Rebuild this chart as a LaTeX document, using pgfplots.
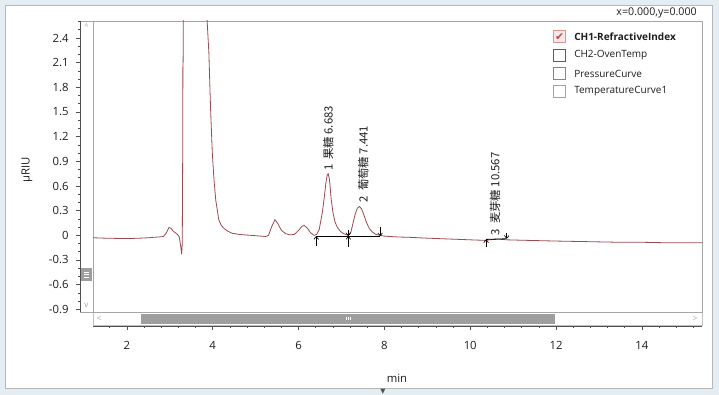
\documentclass[border=0pt]{standalone}
\usepackage{pgfplots}
\pgfplotsset{compat=1.18}
\usepackage{fontspec}
\setmainfont{Open Sans}
\newfontfamily\cjk{Noto Sans CJK SC}
\newfontfamily\dejavu{DejaVu Sans}
\usetikzlibrary{arrows.meta}
\definecolor{bgblue}{HTML}{E4EDF2}
\definecolor{framegray}{HTML}{A6A6A6}
\definecolor{axisgray}{HTML}{505050}
\definecolor{curve}{RGB}{155,75,80}
\definecolor{thumb}{HTML}{9E9E9E}
\definecolor{txt}{HTML}{1E1E1E}
\begin{document}
\begin{tikzpicture}
\begin{scope}[x=0.75pt,y=-0.75pt]
  \fill[bgblue] (0,0) rectangle (719,395);
  \fill[white] (5,5) rectangle (712,388);
  \draw[framegray!80,line width=0.5pt] (5,5) rectangle (712,388);
  % vertical scrollbar
  \draw[framegray,line width=0.5pt] (80,21) rectangle (93,312);
  \fill[thumb] (81,268) rectangle (92,281);
  \foreach \yy in {272,274.5,277} {\draw[white,line width=0.5pt] (84,\yy) -- (89,\yy);}
  \node[text=gray!70,font=\fontsize{6}{6}\selectfont,inner sep=0pt] at (86.5,27) {\textasciicircum};
  \node[text=gray!70,font=\fontsize{6}{6}\selectfont,inner sep=0pt] at (86.5,305) {v};
  % horizontal scrollbar
  \draw[framegray!70,line width=0.5pt] (93,312) rectangle (702,325);
  \fill[thumb] (141,314) rectangle (555,324);
  \foreach \xx in {346,348,350} {\draw[white,line width=0.5pt] (\xx,317) -- (\xx,320.5);}
  \node[text=gray!70,font=\fontsize{6.5}{6.5}\selectfont,inner sep=0pt] at (99,318.5) {<};
  \node[text=gray!70,font=\fontsize{6.5}{6.5}\selectfont,inner sep=0pt] at (695,318.5) {>};
  \node[text=axisgray,font=\fontsize{5}{5}\selectfont,inner sep=0pt] at (383,392) {\dejavu ▼};
\end{scope}

% y scale axis
\begin{axis}[
  at={(60pt,-234pt)}, anchor=south west,
  scale only axis, width=456.75pt, height=218.25pt,
  xmin=0, xmax=1, ymin=-0.933, ymax=2.607,
  axis y line=left, axis x line=none,
  y axis line style={-, draw=axisgray, line width=0.5pt},
  xtick=\empty,
  ytick={-0.9,-0.6,-0.3,0,0.3,0.6,0.9,1.2,1.5,1.8,2.1,2.4},
  minor ytick={-0.8,-0.7,-0.5,-0.4,-0.2,-0.1,0.1,0.2,0.4,0.5,0.7,0.8,1.0,1.1,1.3,1.4,1.6,1.7,1.9,2.0,2.2,2.3,2.5,2.6},
  tick align=outside,
  major tick length=3pt, minor tick length=1.6pt,
  tick style={draw=axisgray, line width=0.5pt},
  /pgf/number format/assume math mode=true,
  yticklabel={\pgfmathprintnumber[fixed,precision=1]{\tick}},
  yticklabel style={font=\fontsize{8.5}{10}\selectfont, text=txt, xshift=-2pt},
]
\end{axis}

% x scale axis
\begin{axis}[
  at={(69.75pt,-244.5pt)}, anchor=south west,
  scale only axis, width=456.75pt, height=10pt,
  xmin=1.21, xmax=15.40, ymin=0, ymax=1,
  axis x line=bottom, axis y line=none,
  x axis line style={-, draw=axisgray, line width=0.5pt},
  ytick=\empty,
  xtick={2,4,6,8,10,12,14},
  minor xtick={1.2,1.6,2.4,2.8,3.2,3.6,4.4,4.8,5.2,5.6,6.4,6.8,7.2,7.6,8.4,8.8,9.2,9.6,10.4,10.8,11.2,11.6,12.4,12.8,13.2,13.6,14.4,14.8,15.2},
  tick align=outside,
  major tick length=3pt, minor tick length=1.6pt,
  tick style={draw=axisgray, line width=0.5pt},
  /pgf/number format/assume math mode=true,
  xticklabel style={font=\fontsize{8.5}{10}\selectfont, text=txt, yshift=-5pt},
]
\end{axis}

% main plot
\begin{axis}[
  at={(69.75pt,-234pt)}, anchor=south west,
  scale only axis, width=456.75pt, height=218.25pt,
  xmin=1.21, xmax=15.40, ymin=-0.933, ymax=2.607,
  xtick=\empty, ytick=\empty,
  axis line style={draw=framegray, line width=0.5pt},
]
\addplot[curve, line width=0.6pt] coordinates {
(1.21,-0.03) (1.5,-0.035) (2.0,-0.04) (2.3,-0.035) (2.5,-0.03) (2.6,-0.025)
(2.75,-0.02) (2.85,-0.015) (2.92,0.03) (2.98,0.095) (3.03,0.085) (3.08,0.05)
(3.13,0.03) (3.18,0.01) (3.22,-0.02) (3.25,-0.12) (3.275,-0.23) (3.29,-0.1)
(3.30,1.0) (3.305,2.11) (3.31,2.11) (3.315,2.7) (3.33,3.5) (3.5,6.0) (3.7,5.0)
(3.85,2.9) (3.87,2.6) (3.91,2.22) (3.95,1.53) (3.99,1.0) (4.03,0.67) (4.07,0.43)
(4.14,0.19) (4.2,0.12) (4.26,0.085) (4.35,0.05) (4.45,0.025) (4.6,0.012)
(4.77,0.004) (5.0,-0.005) (5.23,-0.015) (5.3,0.0) (5.37,0.1) (5.45,0.19)
(5.52,0.14) (5.6,0.06) (5.7,0.02) (5.8,0.005) (5.9,0.01) (6.0,0.06) (6.08,0.11)
(6.13,0.12) (6.2,0.09) (6.28,0.03) (6.36,0.0) (6.42,0.01) (6.48,0.07)
(6.52,0.18) (6.56,0.3) (6.6,0.47) (6.64,0.65) (6.67,0.74) (6.69,0.75)
(6.72,0.68) (6.76,0.44) (6.8,0.28) (6.85,0.16) (6.9,0.10) (6.97,0.05)
(7.05,0.02) (7.16,0.0) (7.22,0.04) (7.27,0.15) (7.32,0.26) (7.37,0.33)
(7.42,0.35) (7.47,0.32) (7.52,0.25) (7.58,0.16) (7.65,0.08) (7.72,0.04)
(7.8,0.01) (7.9,0.0) (8.0,-0.01) (8.3,-0.02) (8.6,-0.025) (9.0,-0.035)
(9.5,-0.045) (10.0,-0.055) (10.36,-0.062) (10.45,-0.055) (10.55,-0.05)
(10.65,-0.048) (10.75,-0.05) (10.85,-0.055) (11.2,-0.06) (11.6,-0.065)
(12,-0.07) (12.5,-0.075) (13,-0.08) (13.5,-0.085) (14,-0.085) (14.5,-0.09)
(15,-0.09) (15.4,-0.09)
};
% integration baselines
\addplot[black, line width=0.6pt] coordinates {(6.41,-0.01) (7.90,-0.01)};
\addplot[black, line width=0.6pt] coordinates {(10.37,-0.05) (10.85,-0.042)};
% peak markers
\addplot[black, line width=0.5pt, -{Straight Barb[length=2pt,width=3.5pt]}] coordinates {(6.41,-0.13) (6.41,-0.01)};
\addplot[black, line width=0.5pt, -{Straight Barb[length=2pt,width=3.5pt]}] coordinates {(7.16,-0.14) (7.16,-0.01)};
\addplot[black, line width=0.5pt, -{Straight Barb[length=2pt,width=3.5pt]}] coordinates {(7.16,0.07) (7.16,-0.01)};
\addplot[black, line width=0.5pt, -{Straight Barb[length=2pt,width=3.5pt]}] coordinates {(7.90,0.105) (7.90,-0.01)};
\addplot[black, line width=0.5pt, -{Straight Barb[length=2pt,width=3.5pt]}] coordinates {(10.37,-0.14) (10.37,-0.05)};
\addplot[black, line width=0.5pt, -{Straight Barb[length=2pt,width=3.5pt]}] coordinates {(10.85,0.03) (10.85,-0.042)};
% peak labels
\node[rotate=90, anchor=west, inner sep=0pt, text=txt, font=\cjk\fontsize{8.5}{10}\selectfont] at (axis cs:6.69,0.78) {1\ \ 果糖 6.683};
\node[rotate=90, anchor=west, inner sep=0pt, text=txt, font=\cjk\fontsize{8.5}{10}\selectfont] at (axis cs:7.51,0.40) {2\ \ 葡萄糖 7.441};
\node[rotate=90, anchor=west, inner sep=0pt, text=txt, font=\cjk\fontsize{8.5}{10}\selectfont] at (axis cs:10.58,0.0) {3\ \ 麦芽糖 10.567};
\end{axis}

\begin{scope}[x=0.75pt,y=-0.75pt]
  % y label and x label
  \node[rotate=90, text=txt, font=\fontsize{8.5}{10}\selectfont] at (27,170) {µRIU};
  \node[text=txt, font=\fontsize{8.5}{10}\selectfont] at (397,378) {min};
  \node[anchor=east, text=txt, font=\fontsize{8}{10}\selectfont, inner sep=0pt] at (697,13) {x=0.000,y=0.000};
  % legend
  \draw[draw={rgb,255:red,214;green,150;blue,150}, fill={rgb,255:red,250;green,232;blue,232}, line width=0.6pt] (553.5,30.5) rectangle (565.5,42.5);
  \node[text={rgb,255:red,200;green,70;blue,70}, font=\dejavu\fontsize{8}{8}\selectfont, inner sep=0pt] at (559.5,37) {✔};
  \draw[draw={rgb,255:red,105;green,85;blue,90}, line width=0.6pt] (553.5,49.5) rectangle (565.5,61.5);
  \draw[draw={rgb,255:red,85;green,150;blue,190}, line width=0.6pt] (553.5,67.5) rectangle (565.5,79.5);
  \draw[draw={rgb,255:red,110;green,190;blue,150}, line width=0.6pt] (553.5,85.5) rectangle (565.5,97.5);
  \node[anchor=west, text=txt, font=\bfseries\fontsize{7.5}{9}\selectfont, inner sep=0pt] at (574,36.5) {CH1-RefractiveIndex};
  \node[anchor=west, text=txt, font=\fontsize{7.5}{9}\selectfont, inner sep=0pt] at (574,55.5) {CH2-OvenTemp};
  \node[anchor=west, text=txt, font=\fontsize{7.5}{9}\selectfont, inner sep=0pt] at (574,73.5) {PressureCurve};
  \node[anchor=west, text=txt, font=\fontsize{7.5}{9}\selectfont, inner sep=0pt] at (574,91.5) {TemperatureCurve1};
  \pgfresetboundingbox
  \useasboundingbox (0,0) rectangle (719,395);
\end{scope}
\end{tikzpicture}
\end{document}
